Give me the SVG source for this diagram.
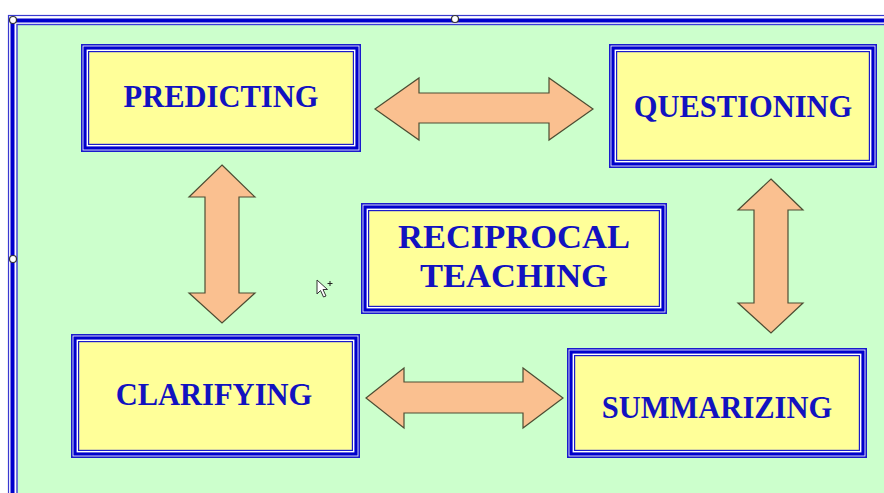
<svg xmlns="http://www.w3.org/2000/svg" width="884" height="493" viewBox="0 0 884 493">
<defs>
<style>
.f1{fill:none;stroke:#3a3ad0;stroke-width:1.2}
.f2{fill:none;stroke:#0000cc;stroke-width:4}
.f3{fill:#ccffcc;stroke:#3a3ad8;stroke-width:1.4}
.o{fill:#ffffff;stroke:#1a1acc;stroke-width:1.6}
.t{fill:none;stroke:#0000cc;stroke-width:3.2}
.i{fill:#ffff99;stroke:#1a1acc;stroke-width:1.2}
.lbl{font-family:"Liberation Serif","Times New Roman",serif;font-weight:bold;font-size:30.5px;fill:#1212c0;text-anchor:middle}
.arr{fill:#fac090;stroke:#4d4d33;stroke-width:1.2;stroke-linejoin:miter}
.h{fill:#ffffff;stroke:#333333;stroke-width:1.2}
</style>
</defs>
<rect x="0" y="0" width="884" height="493" fill="#ffffff"/>
<g id="frame">
<rect class="f1" x="8.5" y="15.5" width="900" height="500"/>
<rect class="f2" x="12.5" y="20.5" width="900" height="500"/>
<rect class="f3" x="17" y="24.5" width="900" height="500"/>
</g>
<g id="connectors">
<polygon class="arr" points="375,109 419,78 419,93 549,93 549,78 593,109 549,140 549,123 419,123 419,140"/>
<polygon class="arr" points="366,398 404,368 404,382 523,382 523,368 563,398 523,428 523,413 404,413 404,428"/>
<polygon class="arr" points="222,165 255,197 239,197 239,293 255,293 222,323 189,293 205,293 205,197 189,197"/>
<polygon class="arr" points="771,179 803,210 788,210 788,303 803,303 771,333 738,303 754,303 754,210 738,210"/>
</g>
<g id="predicting">
<rect class="o" x="81.8" y="44.8" width="278.4" height="106.4"/>
<rect class="t" x="85" y="48" width="272" height="100"/>
<rect class="i" x="88.6" y="51.6" width="264.8" height="92.8"/>
<text class="lbl" x="221" y="107">PREDICTING</text>
</g>
<g id="questioning">
<rect class="o" x="609.8" y="44.8" width="266.4" height="122.4"/>
<rect class="t" x="613" y="48" width="260" height="116"/>
<rect class="i" x="616.6" y="51.6" width="252.8" height="108.8"/>
<text class="lbl" x="743" y="117">QUESTIONING</text>
</g>
<g id="reciprocal">
<rect class="o" x="361.8" y="203.8" width="304.4" height="109.4"/>
<rect class="t" x="365" y="207" width="298" height="103"/>
<rect class="i" x="368.6" y="210.6" width="290.8" height="95.8"/>
<text class="lbl" x="514" y="248" style="font-size:34.5px">RECIPROCAL</text>
<text class="lbl" x="514" y="287" style="font-size:34.5px">TEACHING</text>
</g>
<g id="clarifying">
<rect class="o" x="71.8" y="334.8" width="287.4" height="122.4"/>
<rect class="t" x="75" y="338" width="281" height="116"/>
<rect class="i" x="78.6" y="341.6" width="273.8" height="108.8"/>
<text class="lbl" x="214" y="405">CLARIFYING</text>
</g>
<g id="summarizing">
<rect class="o" x="567.8" y="348.8" width="298.4" height="108.4"/>
<rect class="t" x="571" y="352" width="292" height="102"/>
<rect class="i" x="574.6" y="355.6" width="284.8" height="94.8"/>
<text class="lbl" x="717" y="418">SUMMARIZING</text>
</g>
<g id="handles">
<circle class="h" cx="13" cy="20" r="3.5"/>
<circle class="h" cx="455" cy="19" r="3.5"/>
<circle class="h" cx="13" cy="259" r="3.5"/>
</g>
<g id="cursor">
<path d="M317,280 L317,294 L320.5,290.5 L323.5,297 L326,296 L323,289.5 L327.5,289.5 Z" fill="#ffffff" stroke="#333333" stroke-width="1"/>
<path d="M330,281 v5 M327.5,283.5 h5" stroke="#222222" stroke-width="1"/>
</g>
</svg>
